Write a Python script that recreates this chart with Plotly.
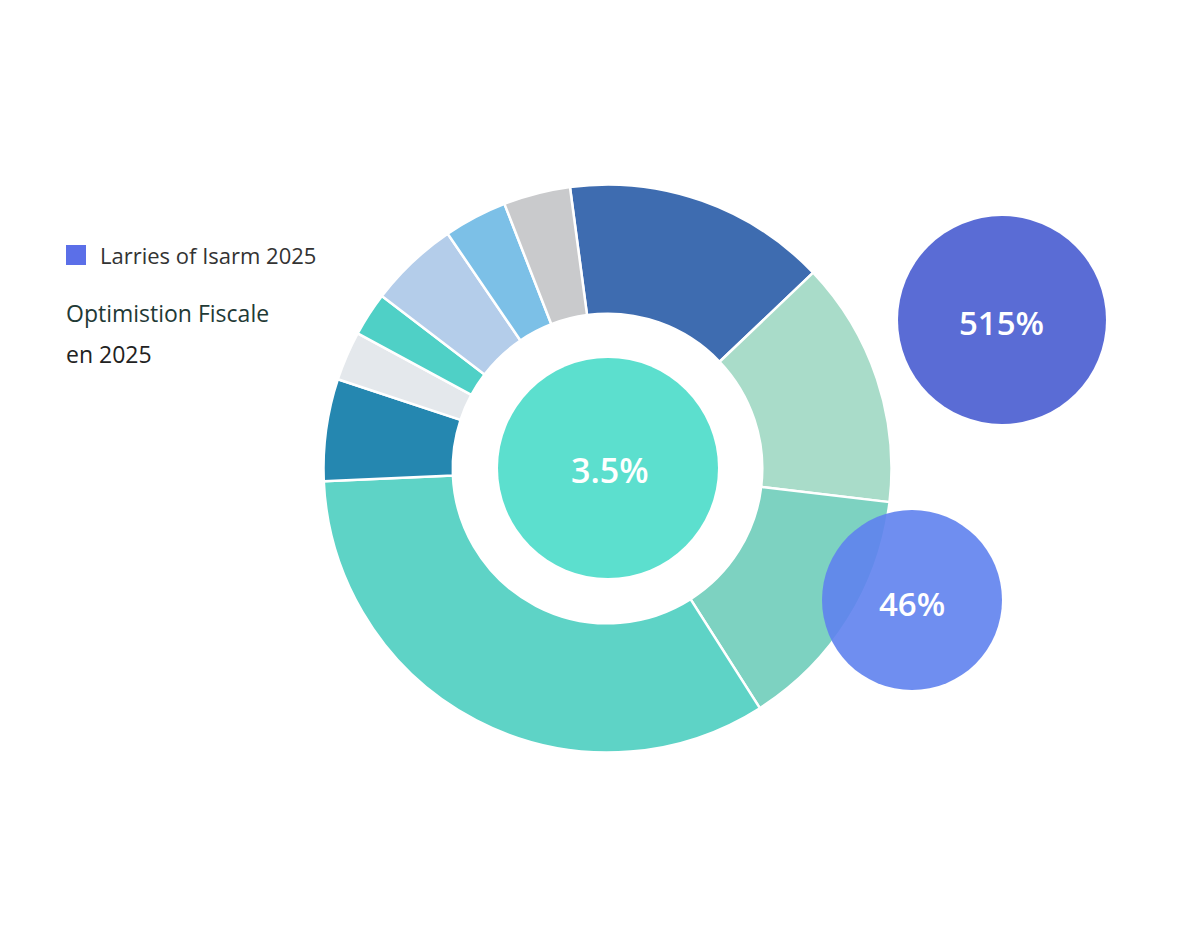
import plotly.graph_objects as go

# donut slices, clockwise from just left of 12 o'clock
slice_labels = ["Segment 1", "Segment 2", "Segment 3", "Segment 4", "Segment 5",
                "Segment 6", "Segment 7", "Segment 8", "Segment 9", "Segment 10"]
slice_values = [15.0, 14.0, 14.1, 33.3, 5.8, 2.8, 2.5, 5.1, 3.6, 3.8]
slice_colors = ["#3e6cb0", "#a9dcc9", "#7dd2c1", "#5ed3c6", "#2587b0",
                "#e4e8ec", "#4fd0c6", "#b4cdea", "#7cc0e7", "#c9cacc"]

center_label = "3.5%"
bubble_labels = ["515%", "46%"]

legend_text = "Larries of Isarm 2025"
subtitle_lines = ["Optimistion Fiscale", "en 2025"]

W, H = 1200, 933
OFF = 8  # page body margin

def px(x):
    return (x - OFF) / W

def py(y):
    return 1 - (y - OFF) / H

# donut geometry (pixels on screen)
cx, cy, r_out = 607.5, 468.5, 284

fig = go.Figure()
fig.add_trace(go.Pie(
    labels=slice_labels,
    values=slice_values,
    sort=False,
    direction="clockwise",
    rotation=-7.6,
    hole=0.545,
    marker=dict(colors=slice_colors, line=dict(color="white", width=2.5)),
    textinfo="none",
    hoverinfo="label+percent",
    showlegend=False,
    domain=dict(x=[px(cx - r_out), px(cx + r_out)],
                y=[py(cy + r_out), py(cy - r_out)]),
))

shapes = []
annotations = []

def circle(x, y, r, color, opacity=1.0):
    return dict(type="circle", xref="paper", yref="paper",
                x0=px(x - r), x1=px(x + r), y0=py(y + r), y1=py(y - r),
                fillcolor=color, opacity=opacity, line=dict(width=0), layer="above")

def label(x, y, text, size, color="white", weight=600, xanchor="center"):
    return dict(x=px(x), y=py(y), xref="paper", yref="paper", showarrow=False,
                text=text, xanchor=xanchor, yanchor="middle",
                font=dict(family="Open Sans", size=size, color=color, weight=weight))

# center disc
shapes.append(circle(608, 468, 110, "#5cdfce"))
annotations.append(label(610, 470, center_label, 34))

# bubbles
shapes.append(circle(1002, 320, 104, "#5a6cd5"))
annotations.append(label(1001, 322, bubble_labels[0], 33))
shapes.append(circle(912, 600, 90, "#5f82ee", opacity=0.9))
annotations.append(label(912, 603, bubble_labels[1], 33))

# legend-like header on the left
shapes.append(dict(type="rect", xref="paper", yref="paper",
                   x0=px(66), x1=px(86), y0=py(265), y1=py(245),
                   fillcolor="#5b6fe8", line=dict(width=0)))
annotations.append(label(98, 255, legend_text, 22, color="#333333", weight=400, xanchor="left"))
annotations.append(label(64, 313, subtitle_lines[0], 23, color="#1f3a36", weight=400, xanchor="left"))
annotations.append(label(64, 354, subtitle_lines[1], 23, color="#222222", weight=400, xanchor="left"))

fig.update_layout(
    width=W, height=H,
    margin=dict(l=0, r=0, t=0, b=0),
    paper_bgcolor="white",
    plot_bgcolor="white",
    shapes=shapes,
    annotations=annotations,
)

fig.write_html("out.html")
